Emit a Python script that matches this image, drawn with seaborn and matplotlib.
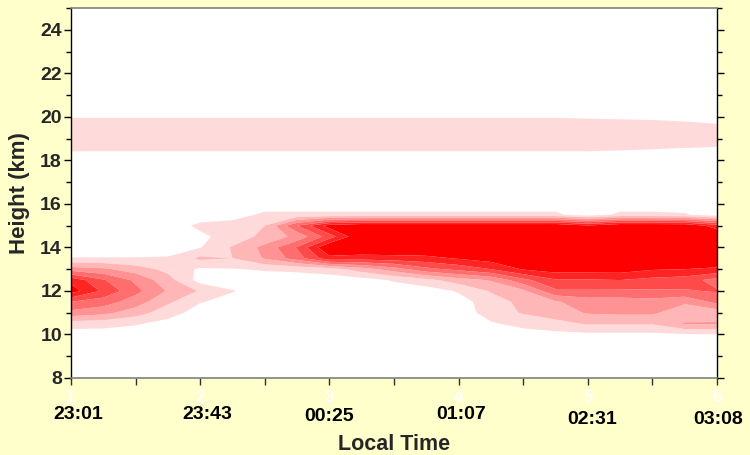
import numpy as np
import matplotlib
matplotlib.use("Agg")
import matplotlib.pyplot as plt
from matplotlib.ticker import MultipleLocator
import seaborn as sns

# ---------------- data ----------------
time_index = [1.0, 1.25, 1.5, 1.75, 2.0, 2.25, 2.5, 2.75, 3.0, 3.25, 3.5,
              3.75, 4.0, 4.25, 4.5, 4.75, 5.0, 5.25, 5.5, 5.75, 6.0]
hour_ticks = [1, 2, 3, 4, 5, 6]
hour_tick_labels = ["1", "2", "3", "4", "5", "6"]
time_labels = ["23:01", "23:43", "00:25", "01:07", "02:31", "03:08"]

heights = [8, 9.5, 10, 10.5, 11, 11.5, 12, 12.5, 13, 13.5, 14, 14.5, 15,
           15.5, 16, 17.5, 18, 18.5, 19, 19.5, 20, 20.5, 25]

no_echo = [0.0] * 21
h10_0 = [0, 0, 0, 0, 0, 0, 0, 0, 0, 0, 0, 0, 0, 0, 0.1, 0.2, 0.3, 0.3, 0.3, 0.4, 0.45]
h10_5 = [1.0, 0.9, 0.6, 0.2, 0, 0, 0, 0, 0, 0, 0, 0, 0, 0.4, 0.8, 1.2, 1.6, 1.6, 1.6, 2.6, 2.6]
h11_0 = [3.2, 2.8, 2.0, 0.9, 0.1, 0, 0, 0, 0, 0, 0, 0, 0, 0.9, 1.6, 2.0, 2.6, 2.7, 2.7, 1.8, 1.9]
h11_5 = [4.5, 4.0, 3.0, 1.7, 0.55, 0.2, 0, 0, 0, 0, 0, 0, 0.1, 1.0, 1.8, 2.4, 3.0, 3.0, 3.1, 2.7, 3.8]
h12_0 = [7.0, 5.3, 3.8, 2.4, 1.4, 0.55, 0, 0, 0, 0, 0, 0, 0.6, 1.6, 2.3, 4.3, 4.3, 4.3, 4.4, 4.4, 4.6]
h12_5 = [6.2, 4.6, 3.3, 1.9, 0.1, 0, 0, 0, 0, 0.1, 0.6, 1.2, 2.0, 2.6, 4.2, 5.4, 5.4, 5.5, 5.2, 5.0, 4.1]
h13_0 = [3.0, 2.7, 2.0, 1.2, 0.35, 0.45, 0.6, 0.7, 1.0, 2.0, 3.0, 4.2, 4.8, 5.5, 6.6, 7.0, 7.0, 7.0, 6.6, 6.5, 6.3]
h13_5 = [0.55, 0.55, 0.55, 0.6, 1.7, 1.5, 2.6, 4.0, 6.2, 6.0, 6.1, 6.2, 6.6, 7.0, 7.5, 7.5, 7.5, 7.5, 7.5, 7.5, 7.5]
h14_0 = [0, 0, 0, 0, 0.45, 1.6, 2.8, 4.6, 7.5, 7.5, 7.5, 7.5, 7.5, 7.5, 7.5, 7.5, 7.5, 7.5, 7.5, 7.5, 7.5]
h14_5 = [0, 0, 0, 0, 0.3, 0.9, 1.8, 2.8, 5.0, 7.5, 7.5, 7.5, 7.5, 7.5, 7.5, 7.5, 7.5, 7.5, 7.5, 7.5, 7.5]
h15_0 = [0, 0, 0, 0, 0.7, 0.9, 1.5, 4.5, 7.0, 7.5, 7.5, 7.5, 7.5, 7.5, 7.5, 7.5, 6.6, 7.5, 7.5, 7.4, 6.0]
h15_5 = [0, 0, 0, 0, 0, 0.1, 0.7, 0.7, 0.7, 0.7, 0.7, 0.7, 0.7, 0.7, 0.7, 0.7, 0, 0.7, 0.7, 0.6, 0]
h18_5 = [0.6, 0.6, 0.6, 0.6, 0.6, 0.6, 0.6, 0.6, 0.6, 0.6, 0.6, 0.6, 0.6, 0.6, 0.6, 0.6, 0.6, 0.55, 0.49, 0.42, 0.34]
h19_0 = [1.0, 1.0, 1.0, 1.0, 1.0, 1.0, 1.0, 1.0, 1.0, 1.0, 1.0, 1.0, 1.0, 1.0, 1.0, 1.0, 1.0, 1.0, 1.0, 1.0, 1.0]
h19_5 = [1.0, 1.0, 1.0, 1.0, 1.0, 1.0, 1.0, 1.0, 1.0, 1.0, 1.0, 1.0, 1.0, 1.0, 1.0, 1.0, 1.0, 1.0, 1.0, 0.9, 0.78]
h20_0 = [0.45, 0.45, 0.45, 0.45, 0.45, 0.45, 0.45, 0.45, 0.45, 0.45, 0.45, 0.45, 0.45, 0.45, 0.45, 0.45, 0.4, 0.35, 0.3, 0.2, 0]

echo_levels = [0.5, 1.5, 2.5, 3.5, 4.5, 5.5, 6.5, 8.0]
level_colors = ["#FFDADA", "#FFB6B6", "#FF9292", "#FF6E6E", "#FF4A4A", "#FF2424", "#FF0000"]

# ---------------- figure ----------------
sns.set_theme(style="white")
plt.rcParams["font.family"] = ["Liberation Sans", "DejaVu Sans"]

grid = np.array([no_echo, no_echo, h10_0, h10_5, h11_0, h11_5, h12_0, h12_5,
                 h13_0, h13_5, h14_0, h14_5, h15_0, h15_5, no_echo, no_echo,
                 no_echo, h18_5, h19_0, h19_5, h20_0, no_echo, no_echo])

bg = "#FFFFCC"
fig = plt.figure(figsize=(7.5, 4.55), dpi=100, facecolor=bg)
ax = fig.add_axes([71 / 750, 1 - 378 / 455, (717 - 71) / 750, (378 - 8) / 455])
ax.set_facecolor("white")

palette = sns.color_palette(level_colors)
ax.contourf(time_index, heights, grid, levels=echo_levels, colors=palette, antialiased=True)

ax.set_xlim(1, 6)
ax.set_ylim(8, 25)

ax.set_xticks(hour_ticks)
ax.set_xticklabels(hour_tick_labels, color="white", fontsize=12, fontweight="bold")
ax.xaxis.set_minor_locator(MultipleLocator(0.5))
ax.set_yticks(range(8, 25, 2))
ax.yaxis.set_minor_locator(MultipleLocator(1))
ax.tick_params(axis="y", which="major", direction="out", length=5, width=1,
               labelsize=14, left=True, right=True, color="black", pad=1.5)
ax.tick_params(axis="y", which="minor", direction="out", length=3.5, width=1,
               left=True, right=True, color="black")
ax.tick_params(axis="x", which="both", direction="out", length=5, width=1,
               bottom=True, color="#303030", pad=3.5)
for lab in ax.get_yticklabels():
    lab.set_fontweight("bold")

label_dx = [5, 5, 0, 1.5, 3, 1]
label_dy = [0, 0, 1.5, 0, 4, 4]
for x, t, dx, dy in zip(hour_ticks, time_labels, label_dx, label_dy):
    ax.annotate(t, xy=(x, 0), xycoords=("data", "axes fraction"),
                xytext=(dx, -20 - dy), textcoords="offset points",
                ha="center", va="top", fontsize=14, fontweight="bold",
                color="black")

ax.set_xlabel("Local Time", fontsize=15.5, fontweight="bold")
ax.xaxis.set_label_coords(0.5, -0.15)
ax.set_ylabel("Height (km)", fontsize=16, fontweight="bold")
ax.yaxis.set_label_coords(-0.063, 0.5)

for side in ["top", "bottom"]:
    ax.spines[side].set_color("#808080")
    ax.spines[side].set_linewidth(1.2)
for side in ["left", "right"]:
    ax.spines[side].set_color("black")
    ax.spines[side].set_linewidth(1.0)

fig.savefig("out.png", dpi=100, facecolor=bg)
